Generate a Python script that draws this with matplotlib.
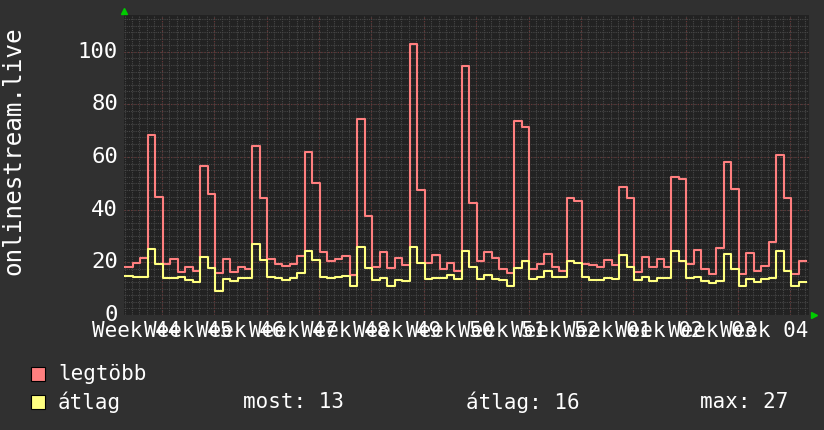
import numpy as np
import matplotlib.pyplot as plt
from matplotlib.lines import Line2D

# daily values, 13 weeks x 7 days
legtobb = [
    18.4, 19.7, 21.5, 68.3, 45.0, 19.3, 21.2,
    16.5, 18.4, 16.8, 56.5, 46.0, 16.1, 21.2,
    16.5, 18.4, 17.4, 64.2, 44.3, 21.2, 19.5,
    18.8, 19.5, 22.5, 62.0, 50.3, 24.0, 20.6,
    21.2, 22.3, 15.2, 74.3, 37.5, 18.4, 24.1,
    17.7, 21.8, 19.0, 103.0, 47.5, 19.8, 22.7,
    17.6, 19.8, 16.9, 94.5, 42.7, 20.4, 23.8,
    21.7, 17.5, 16.0, 73.6, 71.4, 17.6, 19.4,
    23.2, 18.1, 16.9, 44.3, 43.5, 19.4, 18.9,
    18.1, 20.8, 18.9, 48.7, 44.6, 16.2, 21.9,
    18.1, 21.4, 18.1, 52.5, 51.5, 19.4, 24.8,
    17.3, 15.6, 25.4, 58.2, 47.7, 15.6, 23.6,
    16.6, 18.5, 27.6, 60.7, 44.6, 15.4, 20.4,
]
atlag = [
    14.9, 14.6, 14.6, 25.0, 19.3, 14.2, 14.2,
    14.6, 13.3, 12.7, 22.0, 17.8, 9.2, 13.7,
    12.8, 14.0, 14.0, 26.9, 21.0, 14.4, 14.1,
    13.3, 14.1, 16.0, 24.2, 20.8, 14.5, 14.2,
    14.6, 14.9, 11.0, 25.7, 18.0, 13.4, 13.9,
    11.2, 13.2, 12.8, 26.0, 19.8, 13.5, 13.9,
    14.1, 15.1, 13.5, 24.2, 18.1, 13.5, 15.1,
    13.7, 13.2, 11.0, 17.9, 20.4, 13.7, 14.5,
    16.9, 14.4, 14.4, 20.4, 19.8, 14.5, 13.2,
    13.2, 13.9, 13.7, 22.7, 18.1, 13.2, 14.4,
    12.8, 13.9, 14.1, 24.2, 20.4, 14.0, 14.4,
    12.8, 12.2, 12.8, 23.3, 17.6, 11.2, 13.5,
    12.5, 13.7, 14.1, 24.2, 16.9, 11.2, 12.5,
]
week_labels = ['Week 44', 'Week 45', 'Week 46', 'Week 47', 'Week 48', 'Week 49',
               'Week 50', 'Week 51', 'Week 52', 'Week 01', 'Week 02', 'Week 03', 'Week 04']
y_ticks = [0, 20, 40, 60, 80, 100]
stats = {'most': 13, 'átlag': 16, 'max': 27}

W, H = 824, 430
BG = '#303030'
CANVAS = '#222222'
RED = '#ff7f7f'
YELLOW = '#ffff80'
TXT = '#ffffff'
MONO = 'DejaVu Sans Mono'

fig = plt.figure(figsize=(W / 100, H / 100), dpi=100, facecolor=BG)

def fx(px):
    return px / W

def fy(py):
    return 1 - py / H

left, right, top, bottom = 124, 809, 15, 315
ax = fig.add_axes([fx(left), fy(bottom), fx(right - left), (bottom - top) / H])
ax.set_facecolor(CANVAS)

n = len(legtobb)
xlim = (-0.17, 91.38)
ylim = (0, 114)
ax.set_xlim(*xlim)
ax.set_ylim(*ylim)

# week boundaries sit a little before the day steps
week_start = 4.9
minor_x = np.arange(week_start - 7, xlim[1], 1.0)
major_x = np.arange(week_start, xlim[1], 7.0)
for x in minor_x:
    ax.axvline(x, color='#474747', lw=0.8, ls=(0, (1, 1)), zorder=1)
for y in np.arange(0, ylim[1], 2.5):
    ax.axhline(y, color='#474747', lw=0.8, ls=(0, (1, 1)), zorder=1)
for x in major_x:
    ax.axvline(x, color='#6a3434', lw=0.8, ls=(0, (1, 2)), zorder=1.5)
for y in y_ticks[1:]:
    ax.axhline(y, color='#6a3434', lw=0.8, ls=(0, (1, 2)), zorder=1.5)

xs = np.arange(n + 1)
ax.step(xs, legtobb + [legtobb[-1]], where='post', color=RED, lw=1.5, zorder=3)
ax.step(xs, atlag + [atlag[-1]], where='post', color=YELLOW, lw=1.5, zorder=4)

for s in ax.spines.values():
    s.set_visible(False)
ax.set_xticks([])
ax.set_yticks([])

# axis arrows
fig.add_artist(Line2D([fx(left)], [fy(11)], marker='^', color='#00cc00', ms=4, ls=''))
fig.add_artist(Line2D([fx(814)], [fy(bottom)], marker='>', color='#00cc00', ms=4, ls=''))

# y tick labels
for v in y_ticks:
    py = bottom - (v - ylim[0]) / (ylim[1] - ylim[0]) * (bottom - top)
    fig.text(fx(118), fy(py), str(v), ha='right', va='center', color=TXT,
             family=MONO, fontsize=16)

# x labels centred on each week
for i, lab in enumerate(week_labels):
    xc = week_start - 3.5 + 7 * i
    px = left + (xc - xlim[0]) / (xlim[1] - xlim[0]) * (right - left)
    fig.text(fx(px), fy(331), lab, ha='center', va='center', color=TXT,
             family=MONO, fontsize=15)

fig.text(fx(13), fy(151), 'onlinestream.live', rotation=90, ha='center', va='center',
         color=TXT, family=MONO, fontsize=17.5)

# legend
for py, col, lab in [(374, RED, 'legtöbb'), (402, YELLOW, 'átlag')]:
    fig.add_artist(plt.Rectangle((fx(31), fy(py + 7)), 14 / W, 14 / H, facecolor=col,
                                 edgecolor='#000000', lw=0.8))
    fig.text(fx(58), fy(py), lab, ha='left', va='center', color=TXT, family=MONO, fontsize=15)

fig.text(fx(243), fy(402), f"most: {stats['most']}", ha='left', va='center', color=TXT,
         family=MONO, fontsize=15)
fig.text(fx(466), fy(402), f"átlag: {stats['átlag']}", ha='left', va='center', color=TXT,
         family=MONO, fontsize=15)
fig.text(fx(700), fy(402), f"max: {stats['max']}", ha='left', va='center', color=TXT,
         family=MONO, fontsize=15)

fig.savefig('out.png', dpi=100, facecolor=BG)
